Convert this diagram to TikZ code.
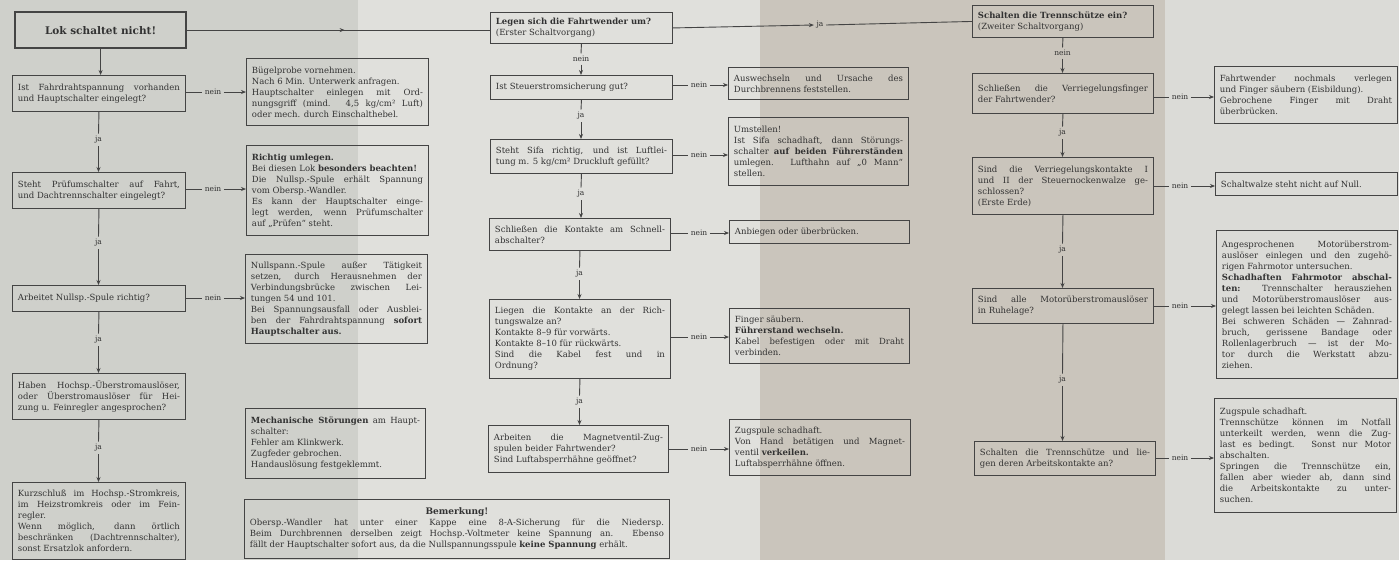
\documentclass[tikz,border=0pt]{standalone}
\usepackage{fontspec}
\setmainfont{DejaVu Serif}
\usetikzlibrary{arrows.meta,decorations.markings}
\definecolor{bgA}{RGB}{207,208,203}
\definecolor{bgB}{RGB}{224,224,220}
\definecolor{bgC}{RGB}{202,197,188}
\definecolor{bgD}{RGB}{219,219,215}
\definecolor{txtc}{RGB}{50,50,50}
\definecolor{bordc}{RGB}{68,68,68}
\newcommand\bxfont{\fontsize{8.5}{11}\selectfont\tolerance=10000\hbadness=10000 }
\newcommand\lblfont{\fontsize{7.5}{8}\selectfont}
\tikzset{
  box/.style={draw=bordc, line width=0.9pt, text=txtc, font=\bxfont, align=justify,
    inner xsep=5.5pt, inner ysep=2pt, anchor=north west},
  lokbox/.style={draw=bordc, line width=2.2pt, text=txtc,
    font=\fontsize{10.5}{12}\selectfont\bfseries, align=center, anchor=north west},
  lbl/.style={text=txtc, font=\lblfont, inner sep=2.5pt},
  conn/.style={draw=bordc, line width=0.9pt},
  arr/.style={-{Stealth[length=5pt,width=4pt]}},
  midarr/.style={postaction={decorate}, decoration={markings,
    mark=at position #1 with {\arrow{Stealth[length=5pt,width=4pt]}}}}
}
\newcommand\bx[6]{%
  \pgfmathsetmacro\bxw{#4-#2}%
  \pgfmathsetmacro\bxh{#5-#3}%
  \pgfmathsetmacro\bxt{#4-#2-11}%
  \node[box, minimum width=\bxw pt, minimum height=\bxh pt, text width=\bxt pt] (#1) at (#2,#3) {#6};}
\begin{document}
\begin{tikzpicture}[x=1pt, y=-1pt]
\useasboundingbox (0,0) rectangle (1399,560);
% paper background
\fill[bgA] (0,0) rectangle (358,560);
\fill[bgB] (358,0) rectangle (760,560);
\fill[bgC] (760,0) rectangle (1165,560);
\fill[bgD] (1165,0) rectangle (1399,560);

% column 1
\node[lokbox, minimum width=171pt, minimum height=36pt] (lok) at (14,11) {Lok schaltet nicht!};
\bx{A1}{12}{75}{185}{111}{Ist Fahrdrahtspannung vorhanden\linebreak und Hauptschalter eingelegt?}
\bx{A2}{12}{172}{185}{208}{Steht Prüfumschalter auf Fahrt,\linebreak und Dachtrennschalter eingelegt?}
\bx{A3}{12}{285}{185}{311}{Arbeitet Nullsp.-Spule richtig?}
\bx{A4}{12}{373}{185}{419}{Haben Hochsp.-Überstromauslöser,\linebreak oder Überstromauslöser für Hei-\linebreak zung u. Feinregler angesprochen?}
\bx{A5}{12}{482}{185}{559}{Kurzschluß im Hochsp.-Stromkreis,\linebreak im Heizstromkreis oder im Fein-\linebreak regler.\\ Wenn möglich, dann örtlich\linebreak beschränken (Dachtrennschalter),\linebreak sonst Ersatzlok anfordern.}

% column 2
\bx{B1}{246}{58}{428}{125}{Bügelprobe vornehmen.\\ Nach 6 Min. Unterwerk anfragen.\\ Hauptschalter einlegen mit Ord-\linebreak nungsgriff (mind. 4,5 kg/cm² Luft)\linebreak oder mech. durch Einschalthebel.}
\bx{B2}{246}{145}{428}{235}{\textbf{Richtig umlegen.}\\ Bei diesen Lok \textbf{besonders beachten!}\\ Die Nullsp.-Spule erhält Spannung\linebreak vom Obersp.-Wandler.\\ Es kann der Hauptschalter einge-\linebreak legt werden, wenn Prüfumschalter\linebreak auf „Prüfen“ steht.}
\bx{B3}{245}{254}{427}{343}{Nullspann.-Spule außer Tätigkeit\linebreak setzen, durch Herausnehmen der\linebreak Verbindungsbrücke zwischen Lei-\linebreak tungen 54 und 101.\\ Bei Spannungsausfall oder Ausblei-\linebreak ben der Fahrdrahtspannung \textbf{sofort}\linebreak \textbf{Hauptschalter aus.}}
\bx{B4}{245}{408}{425}{478}{\textbf{Mechanische Störungen} am Haupt-\linebreak schalter:\\ Fehler am Klinkwerk.\\ Zugfeder gebrochen.\\ Handauslösung festgeklemmt.}
\bx{BEM}{244}{499}{669}{558}{{\centering\fontsize{9}{11}\selectfont\bfseries Bemerkung!\par}\fontsize{8.5}{10.5}\selectfont Obersp.-Wandler hat unter einer Kappe eine 8-A-Sicherung für die Niedersp.\linebreak Beim Durchbrennen derselben zeigt Hochsp.-Voltmeter keine Spannung an. Ebenso\linebreak fällt der Hauptschalter sofort aus, da die Nullspannungsspule \textbf{keine Spannung} erhält.}

% column 3
\bx{C0}{490}{12}{672}{43}{\textbf{Legen sich die Fahrtwender um?}\\ (Erster Schaltvorgang)}
\bx{C1}{490}{75}{672}{99}{Ist Steuerstromsicherung gut?}
\bx{C2}{490}{139}{672}{173}{Steht Sifa richtig, und ist Luftlei-\linebreak tung m. 5 kg/cm² Druckluft gefüllt?}
\bx{C3}{489}{218}{670}{250}{Schließen die Kontakte am Schnell-\linebreak abschalter?}
\bx{C4}{489}{299}{670}{378}{Liegen die Kontakte an der Rich-\linebreak tungswalze an?\\ Kontakte 8–9 für vorwärts.\\ Kontakte 8–10 für rückwärts.\\ Sind die Kabel fest und in\linebreak Ordnung?}
\bx{C5}{488}{425}{668}{472}{Arbeiten die Magnetventil-Zug-\linebreak spulen beider Fahrtwender?\\ Sind Luftabsperrhähne geöffnet?}

% column 3 right
\bx{D1}{728}{67}{908}{99}{Auswechseln und Ursache des\linebreak Durchbrennens feststellen.}
\bx{D2}{728}{117}{908}{185}{Umstellen!\\ Ist Sifa schadhaft, dann Störungs-\linebreak schalter \textbf{auf beiden Führerständen}\linebreak umlegen. Lufthahn auf „0 Mann“\linebreak stellen.}
\bx{D3}{729}{220}{909}{243}{Anbiegen oder überbrücken.}
\bx{D4}{729}{308}{909}{363}{Finger säubern.\\ \textbf{Führerstand wechseln.}\\ Kabel befestigen oder mit Draht\linebreak verbinden.}
\bx{D5}{729}{419}{910}{475}{Zugspule schadhaft.\\ Von Hand betätigen und Magnet-\linebreak ventil \textbf{verkeilen.}\\ Luftabsperrhähne öffnen.}

% column 4
\bx{E0}{972}{5}{1153}{37}{\textbf{Schalten die Trennschütze ein?}\\ (Zweiter Schaltvorgang)}
\bx{E1}{972}{73}{1153}{113}{Schließen die Verriegelungsfinger\linebreak der Fahrtwender?}
\bx{E2}{972}{157}{1153}{214}{Sind die Verriegelungskontakte I\linebreak und II der Steuernockenwalze ge-\linebreak schlossen?\\ (Erste Erde)}
\bx{E3}{972}{288}{1153}{323}{Sind alle Motorüberstromauslöser\linebreak in Ruhelage?}
\bx{E4}{974}{441}{1155}{475}{Schalten die Trennschütze und lie-\linebreak gen deren Arbeitskontakte an?}

% column 5
\bx{F1}{1214}{66}{1397}{123}{Fahrtwender nochmals verlegen\linebreak und Finger säubern (Eisbildung).\\ Gebrochene Finger mit Draht\linebreak überbrücken.}
\bx{F2}{1215}{172}{1397}{195}{Schaltwalze steht nicht auf Null.}
\bx{F3}{1216}{230}{1397}{378}{Angesprochenen Motorüberstrom-\linebreak auslöser einlegen und den zugehö-\linebreak rigen Fahrmotor untersuchen.\\ \textbf{Schadhaften Fahrmotor abschal-\linebreak ten:} Trennschalter herausziehen\linebreak und Motorüberstromauslöser aus-\linebreak gelegt lassen bei leichten Schäden.\\ Bei schweren Schäden — Zahnrad-\linebreak bruch, gerissene Bandage oder\linebreak Rollenlagerbruch — ist der Mo-\linebreak tor durch die Werkstatt abzu-\linebreak ziehen.}
\bx{F4}{1214}{398}{1396}{512}{Zugspule schadhaft.\\ Trennschütze können im Notfall\linebreak unterkeilt werden, wenn die Zug-\linebreak last es bedingt. Sonst nur Motor\linebreak abschalten.\\ Springen die Trennschütze ein,\linebreak fallen aber wieder ab, dann sind\linebreak die Arbeitskontakte zu unter-\linebreak suchen.}

% top connectors
\draw[conn, midarr=0.52] (lok.east) -- (lok.east -| C0.west);
\node[lbl] (jtop) at (820,25) {ja};
\draw[conn,arr] (C0.east) -- (jtop.west);
\draw[conn] (jtop.east) -- (E0.west);

% column 1 vertical
\draw[conn,arr] (lok.south) -- (lok.south |- A1.north);
\node[lbl] (ja1) at (98.5,140) {ja};
\draw[conn] (A1.south) -- (ja1.north);
\draw[conn,arr] (ja1.south) -- (ja1.south |- A2.north);
\node[lbl] (ja2) at (98.5,243) {ja};
\draw[conn] (A2.south) -- (ja2.north);
\draw[conn,arr] (ja2.south) -- (ja2.south |- A3.north);
\node[lbl] (ja3) at (98.5,340) {ja};
\draw[conn] (A3.south) -- (ja3.north);
\draw[conn,arr] (ja3.south) -- (ja3.south |- A4.north);
\node[lbl] (ja4) at (98.5,448) {ja};
\draw[conn] (A4.south) -- (ja4.north);
\draw[conn,arr] (ja4.south) -- (ja4.south |- A5.north);

% column 1 nein
\node[lbl] (na1) at (213,92) {nein};
\draw[conn] (A1.east |- na1) -- (na1.west);
\draw[conn,arr] (na1.east) -- (B1.west |- na1);
\node[lbl] (na2) at (213,189) {nein};
\draw[conn] (A2.east |- na2) -- (na2.west);
\draw[conn,arr] (na2.east) -- (B2.west |- na2);
\node[lbl] (na3) at (213,298) {nein};
\draw[conn] (A3.east |- na3) -- (na3.west);
\draw[conn,arr] (na3.east) -- (B3.west |- na3);

% column 3 vertical
\node[lbl] (nc0) at (581,59) {nein};
\draw[conn] (C0.south) -- (nc0.north);
\draw[conn,arr] (nc0.south) -- (nc0.south |- C1.north);
\node[lbl] (jc1) at (581,116) {ja};
\draw[conn] (C1.south) -- (jc1.north);
\draw[conn,arr] (jc1.south) -- (jc1.south |- C2.north);
\node[lbl] (jc2) at (581,194) {ja};
\draw[conn] (C2.south) -- (jc2.north);
\draw[conn,arr] (jc2.south) -- (jc2.south |- C3.north);
\node[lbl] (jc3) at (579.5,274) {ja};
\draw[conn] (C3.south) -- (jc3.north);
\draw[conn,arr] (jc3.south) -- (jc3.south |- C4.north);
\node[lbl] (jc4) at (579.5,402) {ja};
\draw[conn] (C4.south) -- (jc4.north);
\draw[conn,arr] (jc4.south) -- (jc4.south |- C5.north);

% column 3 nein
\node[lbl] (nd1) at (699,85) {nein};
\draw[conn] (C1.east |- nd1) -- (nd1.west);
\draw[conn,arr] (nd1.east) -- (D1.west |- nd1);
\node[lbl] (nd2) at (699,155) {nein};
\draw[conn] (C2.east |- nd2) -- (nd2.west);
\draw[conn,arr] (nd2.east) -- (D2.west |- nd2);
\node[lbl] (nd3) at (699,233) {nein};
\draw[conn] (C3.east |- nd3) -- (nd3.west);
\draw[conn,arr] (nd3.east) -- (D3.west |- nd3);
\node[lbl] (nd4) at (699,337) {nein};
\draw[conn] (C4.east |- nd4) -- (nd4.west);
\draw[conn,arr] (nd4.east) -- (D4.west |- nd4);
\node[lbl] (nd5) at (699,449) {nein};
\draw[conn] (C5.east |- nd5) -- (nd5.west);
\draw[conn,arr] (nd5.east) -- (D5.west |- nd5);

% column 4 vertical
\node[lbl] (ne0) at (1062.5,53) {nein};
\draw[conn] (E0.south) -- (ne0.north);
\draw[conn,arr] (ne0.south) -- (ne0.south |- E1.north);
\node[lbl] (je1) at (1062.5,133) {ja};
\draw[conn] (E1.south) -- (je1.north);
\draw[conn,arr] (je1.south) -- (je1.south |- E2.north);
\node[lbl] (je2) at (1062.5,250) {ja};
\draw[conn] (E2.south) -- (je2.north);
\draw[conn,arr] (je2.south) -- (je2.south |- E3.north);
\node[lbl] (je3) at (1062.5,380) {ja};
\draw[conn] (E3.south) -- (je3.north);
\draw[conn,arr] (je3.south) -- (je3.south |- E4.north);

% column 4 nein
\node[lbl] (nf1) at (1180,97) {nein};
\draw[conn] (E1.east |- nf1) -- (nf1.west);
\draw[conn,arr] (nf1.east) -- (F1.west |- nf1);
\node[lbl] (nf2) at (1180,186) {nein};
\draw[conn] (E2.east |- nf2) -- (nf2.west);
\draw[conn,arr] (nf2.east) -- (F2.west |- nf2);
\node[lbl] (nf3) at (1180,306) {nein};
\draw[conn] (E3.east |- nf3) -- (nf3.west);
\draw[conn,arr] (nf3.east) -- (F3.west |- nf3);
\node[lbl] (nf4) at (1180,458) {nein};
\draw[conn] (E4.east |- nf4) -- (nf4.west);
\draw[conn,arr] (nf4.east) -- (F4.west |- nf4);
\end{tikzpicture}
\end{document}
